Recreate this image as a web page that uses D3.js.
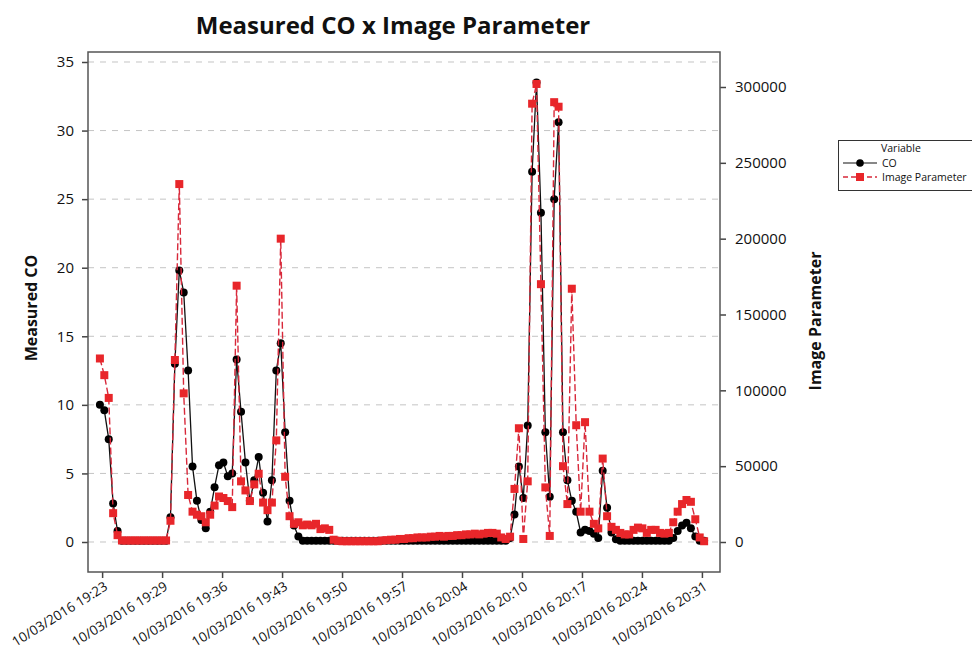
<!DOCTYPE html>
<html>
<head>
<meta charset="utf-8">
<script src="https://cdn.jsdelivr.net/npm/d3@7/dist/d3.min.js"></script>
<style>
  html, body { margin: 0; padding: 0; background: #fff; }
  svg { display: block; }
</style>
</head>
<body>
<svg id="chart" width="972" height="653"></svg>
<script>
// ---------------- DATA ----------------
const chartTitle = "Measured CO x Image Parameter";
const leftAxisTitle = "Measured CO";
const rightAxisTitle = "Image Parameter";
const seriesNames = ["CO", "Image Parameter"];

// sample times: minutes after 19:23, one reading every 30 s
const sampleStart = -0.25;
const sampleStep = 0.5;

// Measured CO (left axis)
const coValues = [
  10.0, 9.6, 7.5, 2.8, 0.8, 0.1, 0.1, 0.1, 0.1, 0.1,
  0.1, 0.1, 0.1, 0.1, 0.1, 0.1, 1.8, 13.0, 19.8, 18.2,
  12.5, 5.5, 3.0, 1.6, 1.0, 2.2, 4.0, 5.6, 5.8, 4.8,
  5.0, 13.3, 9.5, 5.8, 3.0, 4.5, 6.2, 3.6, 1.5, 4.5,
  12.5, 14.5, 8.0, 3.0, 1.2, 0.4, 0.1, 0.1, 0.1, 0.1,
  0.1, 0.1, 0.1, 0.1, 0.1, 0.1, 0.1, 0.1, 0.1, 0.1,
  0.1, 0.1, 0.1, 0.1, 0.1, 0.1, 0.1, 0.1, 0.1, 0.1,
  0.1, 0.1, 0.1, 0.1, 0.1, 0.1, 0.1, 0.1, 0.1, 0.1,
  0.1, 0.1, 0.1, 0.1, 0.1, 0.1, 0.1, 0.1, 0.1, 0.1,
  0.1, 0.1, 0.1, 0.3, 2.0, 5.5, 3.2, 8.5, 27.0, 33.5,
  24.0, 8.0, 3.3, 25.0, 30.6, 8.0, 4.5, 3.0, 2.2, 0.7,
  0.9, 0.8, 0.6, 0.3, 5.2, 2.5, 0.7, 0.2, 0.1, 0.1,
  0.1, 0.1, 0.1, 0.1, 0.1, 0.1, 0.1, 0.1, 0.1, 0.1,
  0.3, 0.8, 1.2, 1.4, 1.0, 0.4, 0.1, 0.1
];

// Image Parameter (right axis)
const imageValues = [
  121000, 110000, 95000, 19000, 4500, 1000, 1000, 1000, 1000, 1000,
  1000, 1000, 1000, 1000, 1000, 1000, 14000, 120000, 236000, 98000,
  31000, 20000, 18000, 17000, 13000, 18000, 24000, 30000, 29000, 27000,
  23000, 169000, 40000, 34000, 27000, 38000, 45000, 26000, 21000, 26000,
  67000, 200000, 43000, 17000, 12000, 13000, 11000, 11500, 11000, 12000,
  8500, 9000, 8000, 1500, 800, 500, 500, 500, 500, 500,
  500, 500, 500, 500, 1000, 1200, 1500, 1500, 2000, 2000,
  2500, 2500, 3000, 3000, 3000, 3500, 3500, 4000, 3500, 4000,
  4000, 4500, 4500, 5000, 5000, 5500, 5000, 5500, 6000, 6000,
  5500, 3000, 2000, 3500, 35000, 75000, 2000, 40000, 289000, 302000,
  170000, 36000, 4000, 290000, 287000, 50000, 25000, 167000, 77000, 20000,
  79000, 20000, 12000, 9000, 55000, 17000, 10000, 8000, 6000, 5000,
  5000, 8000, 9500, 9000, 6000, 8000, 8000, 6000, 5500, 6000,
  13000, 20000, 25000, 27700, 26500, 15000, 3000, 500
];

// x axis ticks (minutes after 19:23) and labels
const xTickMinutes = [0, 6.8, 13.6, 20.4, 27.2, 34, 40.8, 47.6, 54.4, 61.2, 68];
const xTickLabels = [
  "10/03/2016 19:23", "10/03/2016 19:29", "10/03/2016 19:36", "10/03/2016 19:43",
  "10/03/2016 19:50", "10/03/2016 19:57", "10/03/2016 20:04", "10/03/2016 20:10",
  "10/03/2016 20:17", "10/03/2016 20:24", "10/03/2016 20:31"
];
const leftTicks = [0, 5, 10, 15, 20, 25, 30, 35];
const rightTicks = [0, 50000, 100000, 150000, 200000, 250000, 300000];

// ---------------- CHART ----------------
const svg = d3.select("#chart");
const plot = { left: 88, top: 52, right: 720, bottom: 572 };
const FONT = "'Open Sans', 'DejaVu Sans', sans-serif";

const x = d3.scaleLinear().domain([-1.6, 70.05]).range([plot.left, plot.right]);
const yL = d3.scaleLinear().domain([-2.1875, 35.729]).range([plot.bottom, plot.top]);
const yR = d3.scaleLinear().domain([-19780, 323077]).range([plot.bottom, plot.top]);

const coData = coValues.map((v, i) => ({ t: sampleStart + sampleStep * i, v }));
const imgData = imageValues.map((v, i) => ({ t: sampleStart + sampleStep * i, v }));

// gridlines
svg.append("g").selectAll("line").data(leftTicks).join("line")
  .attr("x1", plot.left).attr("x2", plot.right)
  .attr("y1", d => yL(d)).attr("y2", d => yL(d))
  .attr("stroke", "#c4c4c4").attr("stroke-width", 1)
  .attr("stroke-dasharray", "6,6");

// axes
const gL = svg.append("g").attr("transform", `translate(${plot.left},0)`)
  .call(d3.axisLeft(yL).tickValues(leftTicks).tickSize(6).tickPadding(8));
const gR = svg.append("g").attr("transform", `translate(${plot.right},0)`)
  .call(d3.axisRight(yR).tickValues(rightTicks).tickSize(6).tickPadding(9).tickFormat(d3.format("d")));
const gB = svg.append("g").attr("transform", `translate(0,${plot.bottom})`)
  .call(d3.axisBottom(x).tickValues(xTickMinutes).tickSize(6).tickFormat((d, i) => xTickLabels[i]));

[gL, gR, gB].forEach(g => {
  g.select(".domain").remove();
  g.selectAll(".tick line").attr("stroke", "#444").attr("stroke-width", 1.5);
  g.selectAll("text").attr("font-family", FONT).attr("fill", "#111");
});
gL.selectAll("text").attr("font-size", 15);
gR.selectAll("text").attr("font-size", 15);
gB.selectAll("text")
  .attr("font-size", 13.5)
  .attr("text-anchor", "end")
  .attr("dy", null).attr("y", null)
  .attr("transform", "translate(6,17) rotate(-32)");

// frame
svg.append("rect")
  .attr("x", plot.left).attr("y", plot.top)
  .attr("width", plot.right - plot.left).attr("height", plot.bottom - plot.top)
  .attr("fill", "none").attr("stroke", "#555").attr("stroke-width", 1.5);

// CO series
const lineL = d3.line().x(d => x(d.t)).y(d => yL(d.v));
svg.append("path").datum(coData).attr("d", lineL)
  .attr("fill", "none").attr("stroke", "#111").attr("stroke-width", 1.3);
svg.append("g").selectAll("circle").data(coData).join("circle")
  .attr("cx", d => x(d.t)).attr("cy", d => yL(d.v)).attr("r", 4)
  .attr("fill", "#000");

// Image Parameter series
const lineR = d3.line().x(d => x(d.t)).y(d => yR(d.v));
svg.append("path").datum(imgData).attr("d", lineR)
  .attr("fill", "none").attr("stroke", "#d8283a").attr("stroke-width", 1.4)
  .attr("stroke-dasharray", "7,3");
svg.append("g").selectAll("rect").data(imgData).join("rect")
  .attr("x", d => x(d.t) - 4).attr("y", d => yR(d.v) - 4)
  .attr("width", 8).attr("height", 8)
  .attr("fill", "#e8262a");

// titles
svg.append("text").attr("x", 393).attr("y", 34).attr("text-anchor", "middle")
  .attr("font-family", FONT).attr("font-weight", "bold").attr("font-size", 24)
  .attr("fill", "#111").text(chartTitle);
svg.append("text").attr("transform", "translate(37,308) rotate(-90)")
  .attr("text-anchor", "middle").attr("font-family", FONT).attr("font-weight", "bold")
  .attr("font-size", 16).attr("fill", "#111").text(leftAxisTitle);
svg.append("text").attr("transform", "translate(821,321) rotate(-90)")
  .attr("text-anchor", "middle").attr("font-family", FONT).attr("font-weight", "bold")
  .attr("font-size", 16).attr("fill", "#111").text(rightAxisTitle);

// legend
const lg = svg.append("g");
lg.append("rect").attr("x", 838.5).attr("y", 140.5).attr("width", 140).attr("height", 50)
  .attr("fill", "#fff").attr("stroke", "#333").attr("stroke-width", 1);
lg.append("text").attr("x", 881).attr("y", 152).attr("font-family", FONT)
  .attr("font-size", 10.5).attr("fill", "#111").text("Variable");
lg.append("line").attr("x1", 843).attr("x2", 877).attr("y1", 163).attr("y2", 163)
  .attr("stroke", "#111").attr("stroke-width", 1.2);
lg.append("circle").attr("cx", 860).attr("cy", 163).attr("r", 3.8).attr("fill", "#000");
lg.append("text").attr("x", 882).attr("y", 167).attr("font-family", FONT)
  .attr("font-size", 10.5).attr("fill", "#111").text(seriesNames[0]);
lg.append("line").attr("x1", 843).attr("x2", 877).attr("y1", 177).attr("y2", 177)
  .attr("stroke", "#d8283a").attr("stroke-width", 1.3).attr("stroke-dasharray", "5,3");
lg.append("rect").attr("x", 856).attr("y", 173).attr("width", 8).attr("height", 8)
  .attr("fill", "#e8262a");
lg.append("text").attr("x", 882).attr("y", 181).attr("font-family", FONT)
  .attr("font-size", 10.5).attr("fill", "#111").text(seriesNames[1]);
</script>
</body>
</html>
